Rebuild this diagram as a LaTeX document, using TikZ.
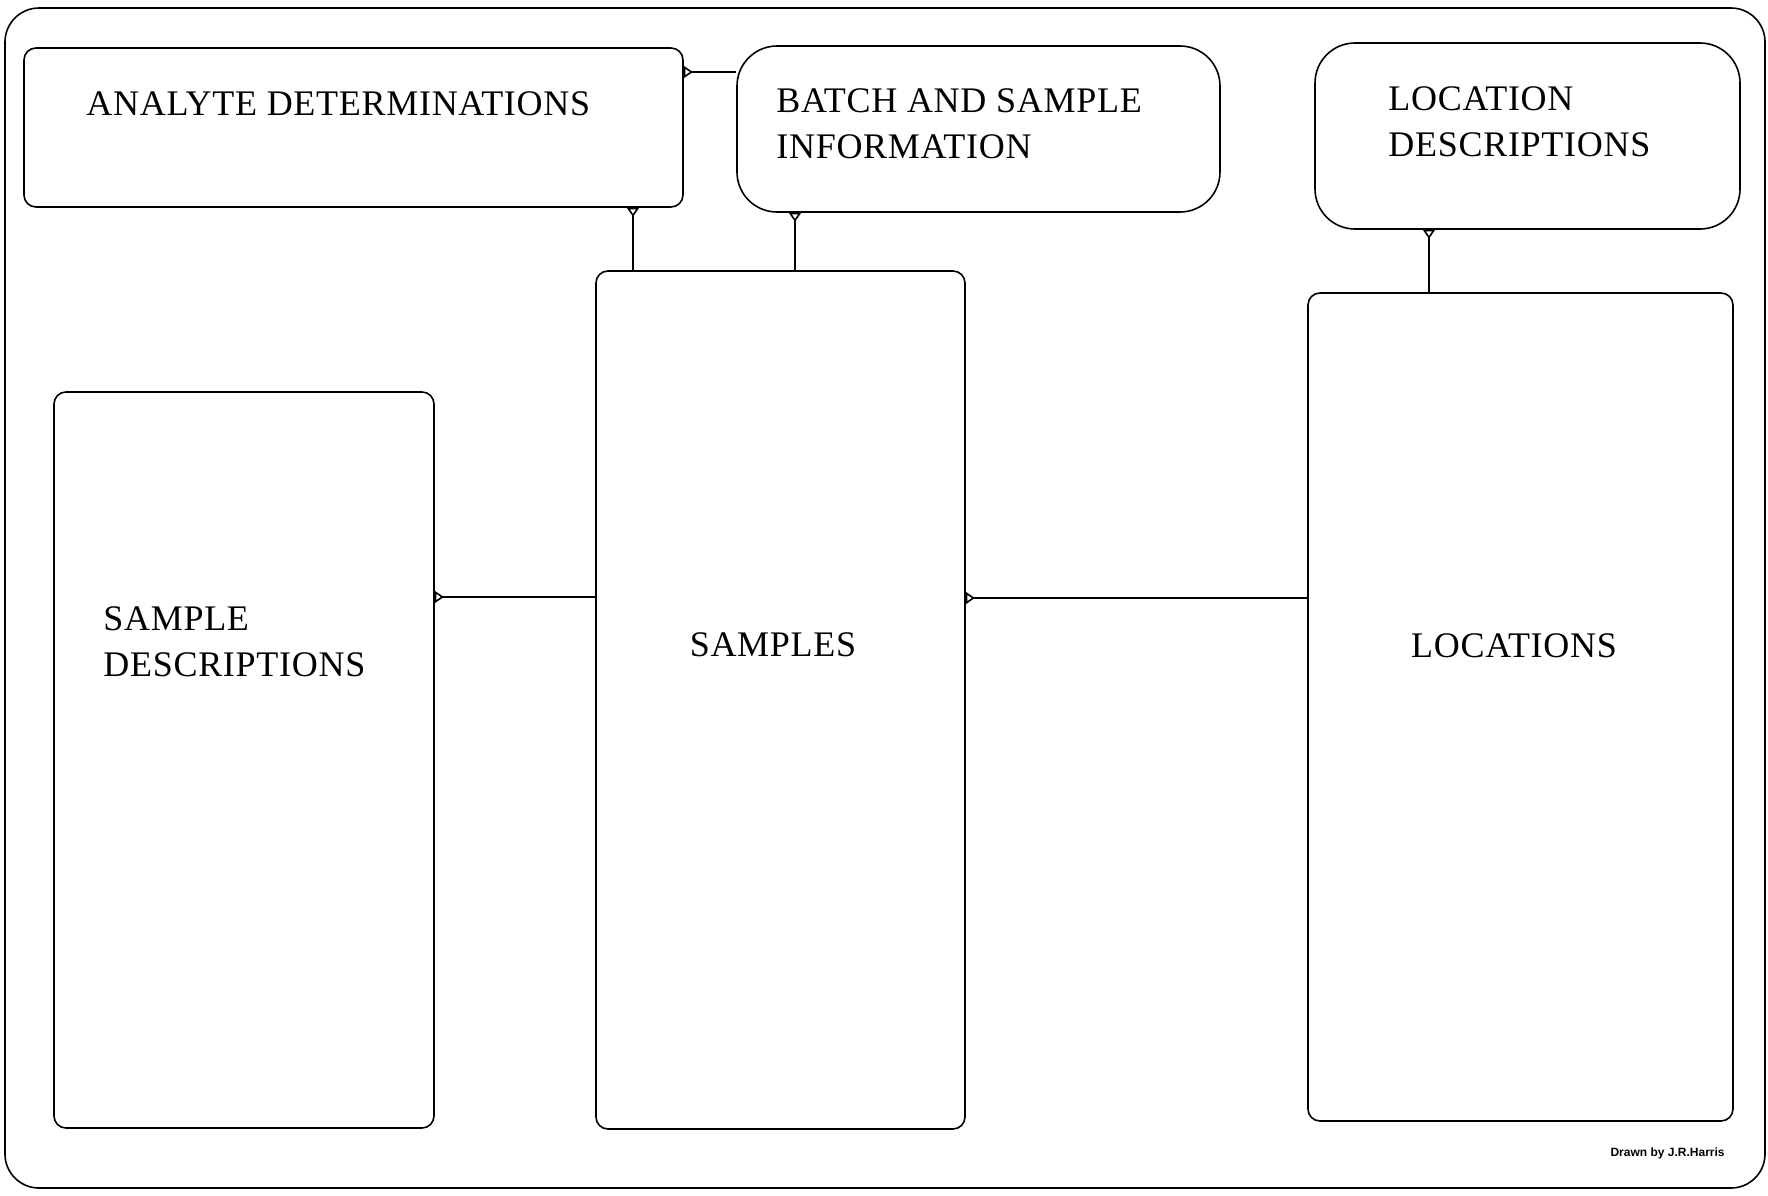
\documentclass[tikz,border=0pt]{standalone}
\usepackage{fontspec}
\setmainfont[LetterSpace=2]{Liberation Serif}
\setsansfont{Liberation Sans}
\usetikzlibrary{arrows.meta,calc,positioning}

\begin{document}
\begin{tikzpicture}[x=0.5pt,y=-0.5pt,
    entity/.style={draw,line width=0.8pt,rounded corners=6pt,inner sep=0pt},
    softbox/.style={entity,rounded corners=20pt},
    title/.style={anchor=west,align=left,inner sep=0pt,font=\fontsize{18}{23}\selectfont},
    foot/.style={line width=0.8pt,{Triangle[open,reversed,length=4.5pt,width=6pt]}-}]

\useasboundingbox (0,0) rectangle (1768,1195);
% outer frame
\draw[line width=0.8pt,rounded corners=17pt] (5,8) rectangle (1765,1188);

% entities
\node[entity,minimum width=329.5pt,minimum height=79.5pt] (anal) at (353.5,127.5) {};
\node[softbox,minimum width=241.5pt,minimum height=83pt] (batch) at (978.5,129) {};
\node[softbox,minimum width=212.5pt,minimum height=93pt] (locdesc) at (1527.5,136) {};
\node[entity,minimum width=184.5pt,minimum height=429pt] (samples) at (780.5,700) {};
\node[entity,minimum width=190pt,minimum height=368pt] (sampdesc) at (244,760) {};
\node[entity,minimum width=212.5pt,minimum height=414pt] (locs) at (1520.5,707) {};

% titles
\node[title] (analtxt) at (86,104) {ANALYTE DETERMINATIONS};
\node[title] (batchtxt) at (776,123.5) {BATCH AND SAMPLE\\INFORMATION};
\node[title] (locdesctxt) at (1388,122) {LOCATION\\DESCRIPTIONS};
\node[title] (sampdesctxt) at (103,642) {SAMPLE\\DESCRIPTIONS};
\node[title,anchor=center] (samplestxt) at (773,645) {SAMPLES};
\node[title,anchor=center] (locstxt) at (1514,646) {LOCATIONS};
\node[font=\sffamily\bfseries\fontsize{6}{7}\selectfont,anchor=east,inner sep=0pt] (credit) at (1725,1153) {Drawn by J.R.Harris};

% relationships
\draw[foot] ([yshift=27.75pt]anal.east) -- ([yshift=27.75pt]anal.east -| batch.west);
\draw[foot] ([xshift=139.75pt]anal.south) -- ([xshift=139.75pt]anal.south |- samples.north);
\draw[foot] ([xshift=-91.75pt]batch.south) -- ([xshift=-91.75pt]batch.south |- samples.north);
\draw[foot] ([xshift=-49.25pt]locdesc.south) -- ([xshift=-49.25pt]locdesc.south |- locs.north);
\draw[foot] ([yshift=81.5pt]sampdesc.east) -- ([yshift=81.5pt]sampdesc.east -| samples.west);
\draw[foot] ([yshift=51pt]samples.east) -- ([yshift=51pt]samples.east -| locs.west);

\end{tikzpicture}
\end{document}
